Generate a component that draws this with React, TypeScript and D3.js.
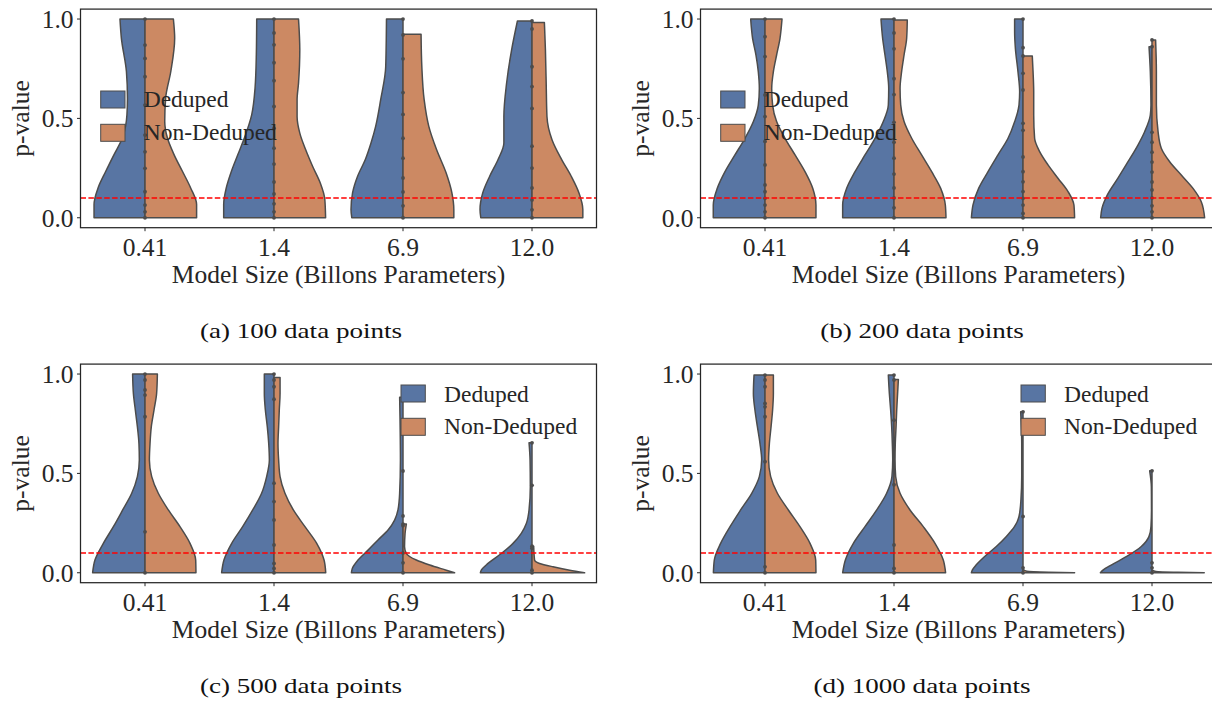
import React from "react";
import * as d3 from "d3";

// ---------- data ----------
const models = ["0.41", "1.4", "6.9", "12.0"];
const groups = ["Deduped", "Non-Deduped"];
const captions = ["(a) 100 data points", "(b) 200 data points", "(c) 500 data points", "(d) 1000 data points"];
const yTicks = [0, 0.5, 1.0];
const threshold = 0.1;
const xLabel = "Model Size (Billons Parameters)";
const yLabel = "p-value";

// density half-width profiles: [p-value, half width in category units], top -> bottom
type Prof = [number, number][];

const dedupedA: Prof[] = [
  [[1.0,0.194],[0.903,0.183],[0.736,0.144],[0.602,0.136],[0.518,0.14],[0.401,0.175],[0.318,0.24],[0.234,0.304],[0.15,0.364],[0.067,0.395],[0,0.395]],
  [[1.0,0.134],[0.82,0.137],[0.652,0.147],[0.518,0.173],[0.401,0.23],[0.318,0.28],[0.234,0.33],[0.15,0.37],[0.067,0.39],[0,0.39]],
  [[1.0,0.128],[0.76,0.134],[0.594,0.173],[0.46,0.212],[0.376,0.248],[0.293,0.292],[0.209,0.352],[0.125,0.391],[0.042,0.403],[0,0.397]],
  [[0.99,0.113],[0.845,0.158],[0.677,0.197],[0.51,0.218],[0.376,0.218],[0.293,0.263],[0.209,0.328],[0.125,0.382],[0.042,0.403],[0,0.397]],
];
const nonDedupedA: Prof[] = [
  [[1.0,0.22],[0.903,0.23],[0.736,0.2],[0.602,0.16],[0.485,0.153],[0.401,0.174],[0.318,0.225],[0.234,0.29],[0.15,0.354],[0.067,0.4],[0,0.4]],
  [[1.0,0.19],[0.845,0.2],[0.677,0.19],[0.594,0.179],[0.51,0.179],[0.426,0.2],[0.343,0.245],[0.259,0.299],[0.176,0.358],[0.092,0.394],[0,0.4]],
  [[0.923,0.14],[0.76,0.146],[0.594,0.164],[0.46,0.2],[0.343,0.26],[0.226,0.334],[0.125,0.379],[0.042,0.394],[0,0.394]],
  [[0.983,0.096],[0.845,0.104],[0.677,0.11],[0.51,0.116],[0.393,0.155],[0.293,0.23],[0.209,0.304],[0.125,0.364],[0.042,0.394],[0,0.394]],
];
const dedupedB: Prof[] = [
  [[1.0,0.111],[0.902,0.096],[0.819,0.07],[0.735,0.052],[0.651,0.044],[0.567,0.052],[0.484,0.09],[0.4,0.155],[0.316,0.233],[0.232,0.31],[0.148,0.37],[0.064,0.401],[0,0.401]],
  [[1.0,0.101],[0.902,0.088],[0.819,0.07],[0.735,0.052],[0.651,0.041],[0.567,0.044],[0.484,0.083],[0.4,0.147],[0.316,0.225],[0.232,0.302],[0.148,0.367],[0.064,0.398],[0,0.398]],
  [[1.0,0.065],[0.936,0.065],[0.852,0.059],[0.735,0.039],[0.634,0.026],[0.567,0.031],[0.483,0.065],[0.4,0.116],[0.316,0.194],[0.232,0.271],[0.148,0.344],[0.064,0.388],[0,0.4]],
  [[0.861,0.023],[0.735,0.013],[0.567,0.008],[0.517,0.013],[0.433,0.057],[0.366,0.109],[0.282,0.186],[0.199,0.264],[0.115,0.346],[0.047,0.388],[0,0.398]],
];
const nonDedupedB: Prof[] = [
  [[1.0,0.132],[0.902,0.116],[0.819,0.09],[0.735,0.065],[0.651,0.052],[0.567,0.059],[0.484,0.09],[0.4,0.155],[0.316,0.233],[0.232,0.31],[0.148,0.37],[0.064,0.395],[0,0.395]],
  [[0.995,0.103],[0.902,0.098],[0.819,0.078],[0.735,0.059],[0.651,0.047],[0.567,0.052],[0.484,0.078],[0.4,0.137],[0.316,0.214],[0.232,0.292],[0.148,0.362],[0.064,0.398],[0,0.403]],
  [[0.814,0.072],[0.735,0.078],[0.634,0.083],[0.517,0.083],[0.4,0.09],[0.333,0.129],[0.266,0.194],[0.199,0.271],[0.132,0.349],[0.064,0.395],[0,0.4]],
  [[0.895,0.028],[0.735,0.034],[0.567,0.034],[0.433,0.047],[0.35,0.072],[0.282,0.137],[0.215,0.227],[0.148,0.318],[0.081,0.382],[0,0.408]],
];
const dedupedC: Prof[] = [
  [[1.0,0.096],[0.902,0.09],[0.819,0.075],[0.735,0.059],[0.651,0.047],[0.567,0.044],[0.484,0.059],[0.4,0.103],[0.316,0.173],[0.232,0.245],[0.148,0.323],[0.064,0.388],[0,0.406]],
  [[1.0,0.075],[0.902,0.075],[0.819,0.067],[0.735,0.052],[0.651,0.041],[0.567,0.036],[0.484,0.057],[0.4,0.096],[0.316,0.165],[0.232,0.243],[0.148,0.328],[0.064,0.388],[0,0.406]],
  [[0.883,0.026],[0.567,0.02],[0.4,0.026],[0.316,0.039],[0.265,0.065],[0.215,0.116],[0.165,0.194],[0.114,0.271],[0.064,0.349],[0.022,0.393],[0,0.4]],
  [[0.654,0.023],[0.567,0.015],[0.433,0.013],[0.316,0.023],[0.248,0.044],[0.198,0.083],[0.148,0.147],[0.097,0.238],[0.047,0.341],[0.013,0.393],[0,0.4]],
];
const nonDedupedC: Prof[] = [
  [[1.0,0.096],[0.902,0.09],[0.819,0.07],[0.735,0.049],[0.651,0.039],[0.567,0.034],[0.484,0.052],[0.4,0.103],[0.316,0.181],[0.232,0.271],[0.148,0.349],[0.064,0.393],[0,0.395]],
  [[0.983,0.047],[0.902,0.047],[0.819,0.041],[0.735,0.036],[0.651,0.031],[0.567,0.036],[0.484,0.047],[0.4,0.085],[0.316,0.15],[0.232,0.24],[0.148,0.331],[0.064,0.388],[0,0.401]],
  [[0.245,0.026],[0.198,0.016],[0.131,0.012],[0.097,0.026],[0.064,0.103],[0.039,0.207],[0.013,0.336],[0,0.4]],
  [[0.134,0.013],[0.064,0.02],[0.047,0.059],[0.03,0.163],[0.013,0.292],[0,0.408]],
];
const dedupedD: Prof[] = [
  [[0.995,0.085],[0.902,0.09],[0.819,0.078],[0.735,0.059],[0.651,0.039],[0.567,0.026],[0.484,0.044],[0.4,0.103],[0.316,0.189],[0.232,0.271],[0.148,0.344],[0.064,0.393],[0,0.4]],
  [[0.995,0.044],[0.902,0.036],[0.819,0.026],[0.735,0.018],[0.651,0.013],[0.567,0.01],[0.484,0.016],[0.4,0.057],[0.316,0.134],[0.232,0.225],[0.148,0.315],[0.064,0.377],[0,0.398]],
  [[0.81,0.018],[0.653,0.01],[0.485,0.01],[0.367,0.016],[0.283,0.031],[0.233,0.065],[0.183,0.129],[0.132,0.207],[0.082,0.297],[0.04,0.362],[0.013,0.393],[0,0.4]],
  [[0.513,0.018],[0.433,0.005],[0.316,0.004],[0.233,0.008],[0.183,0.023],[0.132,0.083],[0.082,0.196],[0.04,0.313],[0.013,0.38],[0,0.4]],
];
const nonDedupedD: Prof[] = [
  [[0.995,0.065],[0.902,0.065],[0.819,0.059],[0.735,0.047],[0.651,0.034],[0.567,0.028],[0.484,0.044],[0.4,0.096],[0.316,0.181],[0.232,0.271],[0.148,0.349],[0.064,0.393],[0,0.395]],
  [[0.973,0.034],[0.902,0.028],[0.819,0.021],[0.735,0.016],[0.651,0.01],[0.567,0.008],[0.484,0.013],[0.4,0.047],[0.316,0.124],[0.232,0.227],[0.148,0.318],[0.064,0.382],[0,0.4]],
  [[0.015,0.005],[0.008,0.03],[0.003,0.2],[0,0.4]],
  [[0.012,0.005],[0.006,0.03],[0.002,0.2],[0,0.405]],
];

// inner points (p-values drawn on the split line)
const pointsA: number[][] = [
  [1.0,0.869,0.802,0.71,0.567,0.416,0.332,0.249,0.131,0.064,0.03,0],
  [1.0,0.93,0.87,0.78,0.69,0.56,0.45,0.35,0.27,0.18,0.12,0.07,0.03,0],
  [1.0,0.92,0.8,0.63,0.52,0.4,0.3,0.2,0.13,0.06,0],
  [0.99,0.95,0.76,0.66,0.55,0.36,0.25,0.15,0.09,0.04,0],
];
const pointsB: number[][] = [
  [1.0,0.911,0.811,0.618,0.509,0.384,0.266,0.165,0.131,0.098,0.064,0.03,0],
  [1.0,0.93,0.85,0.7,0.62,0.48,0.38,0.3,0.22,0.15,0.1,0.05,0],
  [1.0,0.856,0.814,0.727,0.643,0.475,0.44,0.306,0.232,0.181,0.132,0.098,0.064,0.022,0],
  [0.895,0.861,0.43,0.38,0.33,0.28,0.23,0.18,0.14,0.1,0.06,0.03,0],
];
const pointsC: number[][] = [
  [1.0,0.97,0.92,0.894,0.785,0.206,0],
  [1.0,0.97,0.936,0.873,0.451,0.358,0.266,0.14,0.047,0.022,0],
  [0.883,0.512,0.286,0.245,0.237,0.1,0.05,0],
  [0.654,0.44,0.134,0.123,0.013,0],
];
const pointsD: number[][] = [
  [0.995,0.97,0.936,0.852,0.835,0.785,0.559,0.03,0],
  [0.995,0.97,0.768,0.443,0.14,0.022,0],
  [0.81,0.283,0.025,0],
  [0.513,0.05,0.025,0],
];

const dedupedAll = [dedupedA, dedupedB, dedupedC, dedupedD];
const nonDedupedAll = [nonDedupedA, nonDedupedB, nonDedupedC, nonDedupedD];
const pointsAll = [pointsA, pointsB, pointsC, pointsD];

// ---------- style / layout ----------
const W = 1212, H = 703;
const panelLeft = [80.5, 700.5, 80.5, 700.5];
const panelTop = [9.1, 9.1, 364.1, 364.1];
const PW = 516, PH = 218.6;
const captionX = [301, 922, 301, 922];
const captionY = [338, 338, 693, 693];
const legendRight = [false, false, true, true];
const colors = ["#5875A3", "#CC8963"];
const edge = "#4c4c4c";
const ink = "#262626";
const FONT = "'Liberation Serif', 'Times New Roman', serif";
const FS = 25.5;

function Panel({ i }: { i: number }) {
  const left = panelLeft[i], top = panelTop[i];
  const x = d3.scalePoint<string>().domain(models).range([left, left + PW]).padding(0.5);
  const step = x.step();
  const y = d3.scaleLinear().domain([-0.05, 1.05]).range([top + PH, top]);
  const w = d3.scaleLinear().domain([0, 1]).range([0, step]);
  const half = (cx: number, sign: number) =>
    d3.area<[number, number]>()
      .curve(d3.curveMonotoneY)
      .y((d) => y(d[0]))
      .x0(cx)
      .x1((d) => cx + sign * w(d[1]));
  const clipId = `clip${i}`;
  const lx = legendRight[i] ? left + 320.5 : left + 20.2;
  const ly = legendRight[i] ? [top + 20.9, top + 54.2] : [top + 81.9, top + 115.2];
  const lt = legendRight[i] ? [top + 37.6, top + 69.9] : [top + 97.9, top + 130.9];
  return (
    <g>
      <defs>
        <clipPath id={clipId}>
          <rect x={left} y={top} width={PW} height={PH} />
        </clipPath>
      </defs>
      <g clipPath={`url(#${clipId})`}>
        {models.map((m, k) => {
          const cx = x(m)!;
          return (
            <g key={m}>
              <path d={half(cx, -1)(dedupedAll[i][k]) || ""} fill={colors[0]} stroke={edge} strokeWidth={1.5} strokeLinejoin="round" />
              <path d={half(cx, 1)(nonDedupedAll[i][k]) || ""} fill={colors[1]} stroke={edge} strokeWidth={1.5} strokeLinejoin="round" />
              {pointsAll[i][k].map((p, j) => (
                <circle key={j} cx={cx} cy={y(p)} r={1.9} fill={edge} />
              ))}
            </g>
          );
        })}
        <line x1={left} x2={left + PW} y1={y(threshold)} y2={y(threshold)} stroke="#ff0000" strokeWidth={1.5} strokeDasharray="5.5,2.4" />
      </g>
      <rect x={left} y={top} width={PW} height={PH} fill="none" stroke={ink} strokeWidth={1.25} />
      {/* x ticks */}
      {models.map((m) => (
        <g key={m}>
          <line x1={x(m)!} x2={x(m)!} y1={top + PH} y2={top + PH + 3.5} stroke={ink} strokeWidth={1} />
          <text x={x(m)!} y={top + PH + 28.3} textAnchor="middle" fontSize={FS} fill={ink} fontFamily={FONT}>{m}</text>
        </g>
      ))}
      {/* y ticks */}
      {yTicks.map((t) => (
        <g key={t}>
          <line x1={left - 3.5} x2={left} y1={y(t)} y2={y(t)} stroke={ink} strokeWidth={1} />
          <text x={left - 7} y={y(t)} dy="0.35em" textAnchor="end" fontSize={FS} fill={ink} fontFamily={FONT}>{d3.format(".1f")(t)}</text>
        </g>
      ))}
      <text x={left + PW / 2} y={top + PH + 55.6} textAnchor="middle" fontSize={FS} fill={ink} fontFamily={FONT}>{xLabel}</text>
      <text transform={`translate(${left - 52},${top + PH / 2}) rotate(-90)`} textAnchor="middle" fontSize={FS} fill={ink} fontFamily={FONT}>{yLabel}</text>
      {/* legend */}
      {groups.map((g, k) => (
        <g key={g}>
          <rect x={lx} y={ly[k]} width={24.3} height={17} fill={colors[k]} stroke={edge} strokeWidth={1} />
          <text x={lx + 43} y={lt[k]} fontSize={23.5} fill={ink} fontFamily={FONT}>{g}</text>
        </g>
      ))}
      <text transform={`translate(${captionX[i]},${captionY[i]}) scale(1.23,1)`} textAnchor="middle" fontSize={22} fill="#111" fontFamily={FONT}>{captions[i]}</text>
    </g>
  );
}

export default function App() {
  return (
    <svg width={W} height={H} viewBox={`0 0 ${W} ${H}`} style={{ position: "absolute", left: 0, top: 0, background: "#fff" }}>
      <rect x={0} y={0} width={W} height={H} fill="#fff" />
      {[0, 1, 2, 3].map((i) => (
        <Panel key={i} i={i} />
      ))}
    </svg>
  );
}
